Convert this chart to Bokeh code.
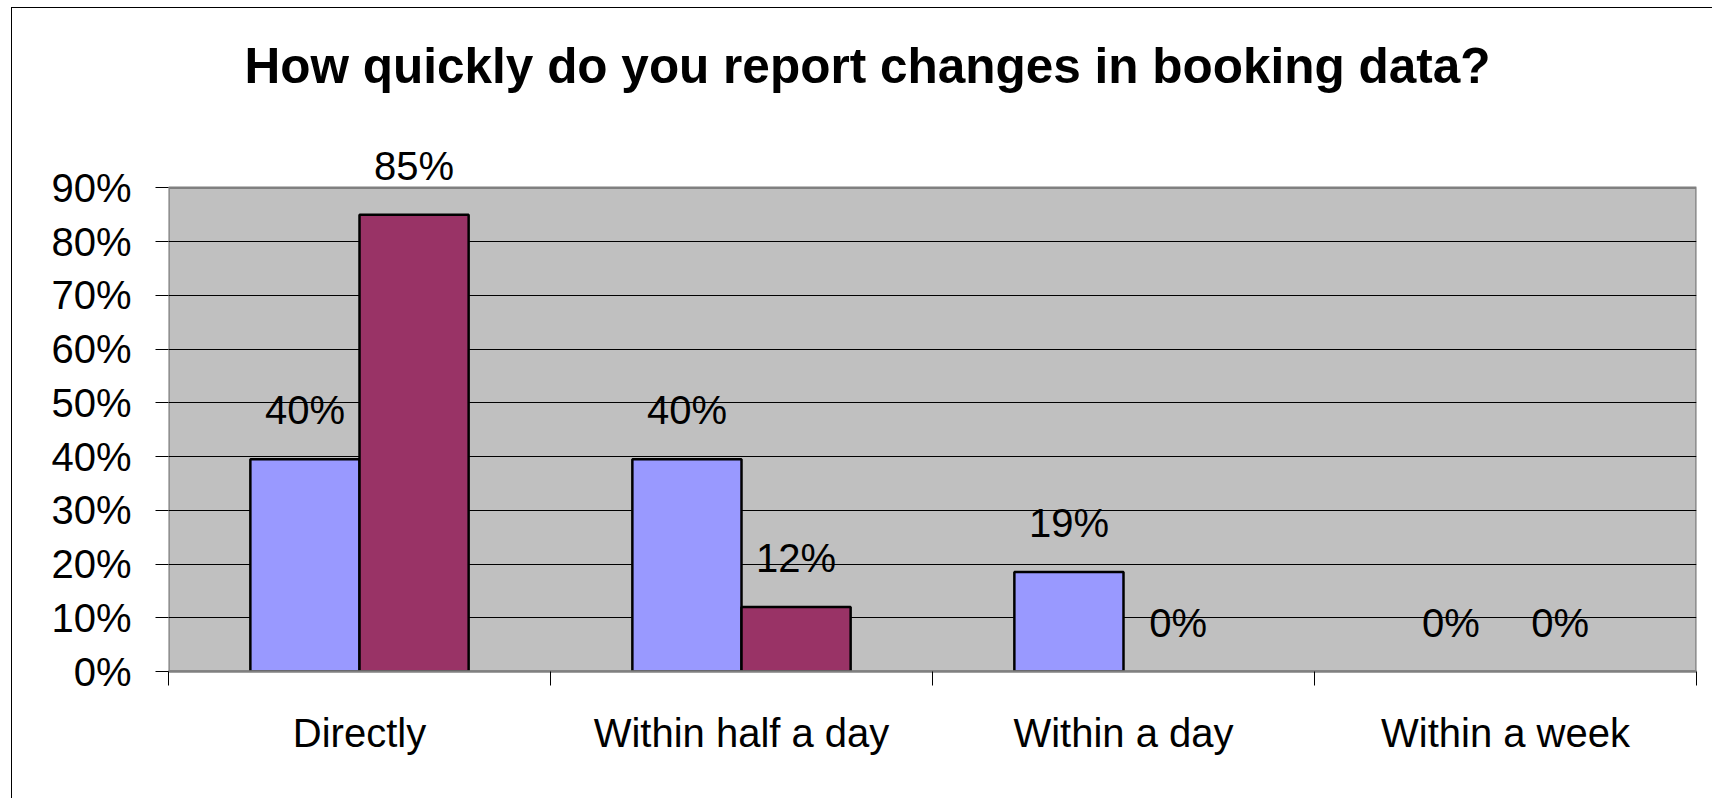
from bokeh.plotting import figure
from bokeh.models import (Range1d, FixedTicker, NumeralTickFormatter, ColumnDataSource,
                          LabelSet, Label)
from bokeh.core.properties import value
from bokeh.embed import file_html
from bokeh.resources import INLINE

# ---- data ----
title_text = "How quickly do you report changes in booking data?"
categories = ["Directly", "Within half a day", "Within a day", "Within a week"]
series_a = [0.395, 0.395, 0.185, 0.0]   # blue
series_b = [0.85, 0.12, 0.0, 0.0]       # maroon
labels_a = ["40%", "40%", "19%", "0%"]
labels_b = ["85%", "12%", "0%", "0%"]
y_ticks = [0.0, 0.1, 0.2, 0.3, 0.4, 0.5, 0.6, 0.7, 0.8, 0.9]
Y_MAX = 0.9

# ---- layout (pixels) ----
W, H = 1712, 798
LEFT, RIGHT, BOTTOM = 168, 16, 127
PLOT_TOP_PX = 187.3                     # where 90 % sits
FRAME_H = H - BOTTOM
FRAME_W = W - LEFT - RIGHT
# frame extends to the canvas top so that labels/title above the plot area are not clipped
Y_END = Y_MAX * FRAME_H / (FRAME_H - PLOT_TOP_PX)
N = len(categories)


def px_to_data(px, py):
    return px / FRAME_W * N, (FRAME_H - py) / FRAME_H * Y_END


FONT = "Liberation Sans"
BAR_W = 1 / 3.5          # Excel gap width 150 %
centers = [i + 0.5 for i in range(N)]
xa_pos = [c - BAR_W / 2 for c in centers]
xb_pos = [c + BAR_W / 2 for c in centers]

lab_a = ColumnDataSource(dict(x=xa_pos, top=series_a, lab=labels_a))
lab_b = ColumnDataSource(dict(x=xb_pos, top=series_b, lab=labels_b))
# zero-valued bars are not drawn (as in the original)
bar_a = ColumnDataSource(dict(x=[x for x, v in zip(xa_pos, series_a) if v > 0],
                              top=[v for v in series_a if v > 0]))
bar_b = ColumnDataSource(dict(x=[x for x, v in zip(xb_pos, series_b) if v > 0],
                              top=[v for v in series_b if v > 0]))

p = figure(width=W, height=H, output_backend="svg", toolbar_location=None,
           x_range=Range1d(0, N), y_range=Range1d(0, Y_END),
           min_border_left=LEFT, min_border_right=RIGHT, min_border_top=0,
           min_border_bottom=BOTTOM)

p.background_fill_color = None
p.border_fill_color = None
p.outline_line_color = None
p.styles = {
    "background": "linear-gradient(#000, #000) 11px 7px / 1px 100% no-repeat, "
                  "linear-gradient(#000, #000) 11px 7px / 100% 1px no-repeat, white",
}

# gray plot area (below grid lines)
p.quad(left=0, right=N, bottom=0, top=Y_MAX, fill_color="#C0C0C0",
       line_color="#808080", line_width=2.5, level="image")

# bars
p.vbar(x="x", top="top", width=BAR_W, bottom=0, source=bar_a,
       fill_color="#9999FF", line_color="black", line_width=2.5)
p.vbar(x="x", top="top", width=BAR_W, bottom=0, source=bar_b,
       fill_color="#993366", line_color="black", line_width=2.5)

# data labels
for src in (lab_a, lab_b):
    p.add_layout(LabelSet(x="x", y="top", text="lab", source=src, y_offset=35,
                          text_align="center", text_baseline="alphabetic",
                          text_font=value(FONT), text_font_size=value("40px"),
                          text_color="black"))

# title
tx, ty = px_to_data(867 - LEFT, 64.5)
p.add_layout(Label(x=tx, y=ty, text=title_text, text_align="center",
                   text_baseline="alphabetic", text_font=FONT, text_font_size="49.5px",
                   text_font_style="bold", text_color="black"))

# grid
p.xgrid.visible = False
p.ygrid.ticker = FixedTicker(ticks=y_ticks[1:-1])
p.ygrid.grid_line_color = "black"
p.ygrid.grid_line_width = 1

# y axis
ya = p.yaxis[0]
ya.ticker = FixedTicker(ticks=y_ticks)
ya.formatter = NumeralTickFormatter(format="0%")
ya.axis_line_color = None
ya.major_tick_out = 13
ya.major_tick_in = 0
ya.major_tick_line_color = "black"
ya.minor_tick_line_color = None
ya.major_label_standoff = 24
ya.major_label_text_font = FONT
ya.major_label_text_font_size = "40px"
ya.major_label_text_color = "black"

# x axis: labels at category centers, ticks at boundaries
xa = p.xaxis[0]
xa.ticker = FixedTicker(ticks=centers, minor_ticks=list(range(N + 1)))
xa.major_label_overrides = {c: name for c, name in zip(centers, categories)}
xa.axis_line_color = "#808080"
xa.axis_line_width = 2.5
xa.major_tick_out = 0
xa.major_tick_in = 0
xa.major_tick_line_color = None
xa.minor_tick_out = 14
xa.minor_tick_in = 0
xa.minor_tick_line_color = "black"
xa.major_label_standoff = 25
xa.major_label_text_font = FONT
xa.major_label_text_font_size = "40px"
xa.major_label_text_color = "black"

open("out.html", "w").write(file_html(p, INLINE))
